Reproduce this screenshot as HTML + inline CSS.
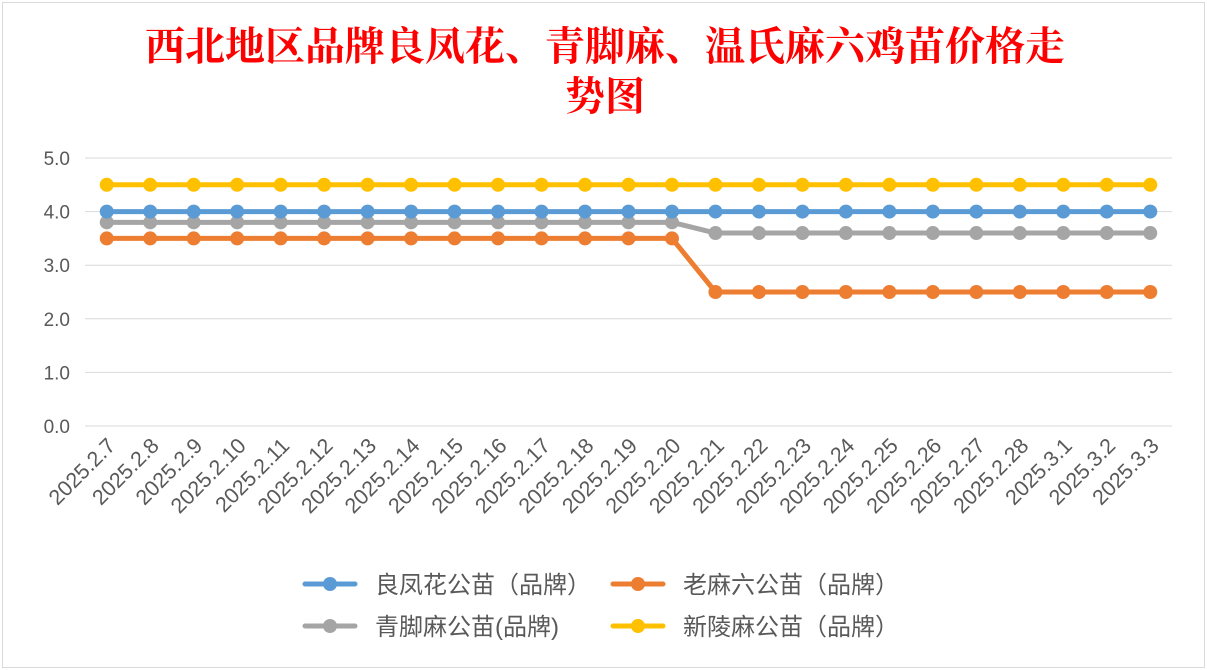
<!DOCTYPE html>
<html><head><meta charset="utf-8"><style>
body{margin:0;background:#fff;}
#wrap{position:relative;width:1207px;height:670px;overflow:hidden;background:#fff;font-family:"Liberation Sans","Noto Sans CJK SC",sans-serif;}
</style></head><body>
<div id="wrap">
<svg id="chart" width="1207" height="670" xmlns="http://www.w3.org/2000/svg">
<rect x="2.5" y="2.5" width="1202" height="665" fill="#fff" stroke="#d9d9d9"/>
<text x="605" y="60" text-anchor="middle" font-size="40" fill="#ff0000" font-weight="bold" font-family="Noto Serif CJK SC, serif">西北地区品牌良凤花、青脚麻、温氏麻六鸡苗价格走</text>
<text x="605" y="110" text-anchor="middle" font-size="40" fill="#ff0000" font-weight="bold" font-family="Noto Serif CJK SC, serif">势图</text>
<g id="grid"></g><g id="yax"></g><g id="xax"></g><g id="series"></g>
<g id="legend"></g>
</svg>
</div>
<script>
const categories=["2025.2.7","2025.2.8","2025.2.9","2025.2.10","2025.2.11","2025.2.12","2025.2.13","2025.2.14","2025.2.15","2025.2.16","2025.2.17","2025.2.18","2025.2.19","2025.2.20","2025.2.21","2025.2.22","2025.2.23","2025.2.24","2025.2.25","2025.2.26","2025.2.27","2025.2.28","2025.3.1","2025.3.2","2025.3.3"];
const liangfenghua=[4.0,4.0,4.0,4.0,4.0,4.0,4.0,4.0,4.0,4.0,4.0,4.0,4.0,4.0,4.0,4.0,4.0,4.0,4.0,4.0,4.0,4.0,4.0,4.0,4.0];
const laomaliu=[3.5,3.5,3.5,3.5,3.5,3.5,3.5,3.5,3.5,3.5,3.5,3.5,3.5,3.5,2.5,2.5,2.5,2.5,2.5,2.5,2.5,2.5,2.5,2.5,2.5];
const qingjiaoma=[3.8,3.8,3.8,3.8,3.8,3.8,3.8,3.8,3.8,3.8,3.8,3.8,3.8,3.8,3.6,3.6,3.6,3.6,3.6,3.6,3.6,3.6,3.6,3.6,3.6];
const xinlingma=[4.5,4.5,4.5,4.5,4.5,4.5,4.5,4.5,4.5,4.5,4.5,4.5,4.5,4.5,4.5,4.5,4.5,4.5,4.5,4.5,4.5,4.5,4.5,4.5,4.5];
const yTicks=[0,1,2,3,4,5];
const seriesNames=["良凤花公苗（品牌）","老麻六公苗（品牌）","青脚麻公苗(品牌)","新陵麻公苗（品牌）"];
const NS="http://www.w3.org/2000/svg";
const X0=85,X1=1172,Y0=426,Y1=158;
const step=(X1-X0)/categories.length;
const xs=i=>X0+step*(i+0.5);
const ys=v=>Y0-(v/5)*(Y0-Y1);
function mk(t,a,p){const e=document.createElementNS(NS,t);for(const k in a)e.setAttribute(k,a[k]);p.appendChild(e);return e;}
const grid=document.getElementById('grid'),yax=document.getElementById('yax'),xax=document.getElementById('xax'),ser=document.getElementById('series'),leg=document.getElementById('legend');
yTicks.forEach(v=>{
 const l=mk('line',{x1:X0,x2:X1,y1:ys(v),y2:ys(v),stroke:'#d9d9d9','stroke-width':1},grid);
 
 
 const t=mk('text',{x:70,y:ys(v)+7,'text-anchor':'end','font-size':19,fill:'#595959'},yax);
 t.textContent=v.toFixed(1);
 
 
});
categories.forEach((c,i)=>{
 const x=xs(i)+10,y=447;
 const t=mk('text',{x:x,y:y,'text-anchor':'end','font-size':21.5,fill:'#595959',transform:`rotate(-45 ${x} ${y})`},xax);
 t.textContent=c;
 
 
});
const all=[[qingjiaoma,'#a5a5a5','series-qingjiaoma'],[laomaliu,'#ed7d31','series-laomaliu'],[liangfenghua,'#5b9bd5','series-liangfenghua'],[xinlingma,'#ffc000','series-xinlingma']];
all.forEach(([d,col,name])=>{
 const g=mk('g',{},ser);
 
 
 const p=mk('polyline',{points:d.map((v,i)=>xs(i)+','+ys(v)).join(' '),fill:'none',stroke:col,'stroke-width':5,'stroke-linejoin':'round'},g);
 
 
 d.forEach((v,i)=>{
  const c=mk('circle',{cx:xs(i),cy:ys(v),r:7,fill:col},g);
  
  
 });
});
const legPos=[[305,584,'#5b9bd5'],[613,584,'#ed7d31'],[305,626,'#a5a5a5'],[613,626,'#ffc000']];
legPos.forEach(([x,y,col],i)=>{
 const g=mk('g',{},leg);
 
 
 mk('line',{x1:x,x2:x+50,y1:y,y2:y,stroke:col,'stroke-width':5,'stroke-linecap':'round'},g);
 mk('circle',{cx:x+25,cy:y,r:7,fill:col},g);
 const t=mk('text',{x:x+70,y:y+9,'font-size':24,fill:'#595959'},g);
 t.textContent=seriesNames[i];
});
</script>
</body></html>
